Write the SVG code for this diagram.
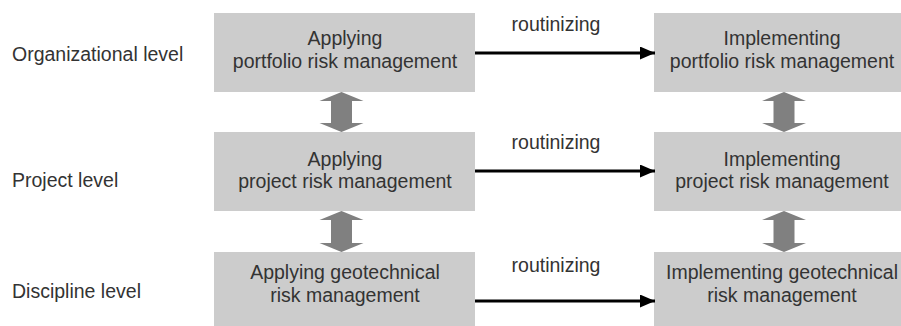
<svg xmlns="http://www.w3.org/2000/svg" width="901" height="326" viewBox="0 0 901 326">
<style>
.box{fill:#cccccc}
.t{font-family:"Liberation Sans",Arial,sans-serif;font-size:19.5px;fill:#333333}
.m{text-anchor:middle}
.link{stroke:#000;stroke-width:3;fill:none}
.dbl{fill:#808080}
</style>
<defs>
<marker id="ah" markerWidth="15" markerHeight="13" refX="15" refY="6.5" orient="auto" markerUnits="userSpaceOnUse">
<polygon points="0,0 15,6.5 0,13" fill="#000"/>
</marker>
</defs>
<g id="labels">
<text class="t" x="12" y="61">Organizational level</text>
<text class="t" x="12" y="187">Project level</text>
<text class="t" x="12" y="298">Discipline level</text>
</g>
<g id="n1"><rect class="box" x="214" y="13" width="261" height="79"/>
<text class="t m" x="345" y="45">Applying</text><text class="t m" x="345" y="68">portfolio risk management</text></g>
<g id="n2"><rect class="box" x="654" y="13" width="260" height="79"/>
<text class="t m" x="782" y="45">Implementing</text><text class="t m" x="782" y="68">portfolio risk management</text></g>
<g id="n3"><rect class="box" x="214" y="132" width="261" height="79"/>
<text class="t m" x="345" y="166">Applying</text><text class="t m" x="345" y="188">project risk management</text></g>
<g id="n4"><rect class="box" x="654" y="132" width="260" height="79"/>
<text class="t m" x="782" y="166">Implementing</text><text class="t m" x="782" y="188">project risk management</text></g>
<g id="n5"><rect class="box" x="214" y="252" width="261" height="74"/>
<text class="t m" x="345" y="279">Applying geotechnical</text><text class="t m" x="345" y="302">risk management</text></g>
<g id="n6"><rect class="box" x="654" y="252" width="260" height="74"/>
<text class="t m" x="782" y="279">Implementing geotechnical</text><text class="t m" x="782" y="302">risk management</text></g>
<g id="connectors">
<line class="link" x1="475" y1="53" x2="655" y2="53" marker-end="url(#ah)"/>
<line class="link" x1="475" y1="171" x2="655" y2="171" marker-end="url(#ah)"/>
<line class="link" x1="475" y1="301" x2="655" y2="301" marker-end="url(#ah)"/>
<text class="t m" x="556" y="31">routinizing</text>
<text class="t m" x="556" y="149">routinizing</text>
<text class="t m" x="556" y="272">routinizing</text>
<polygon class="dbl" points="341.5,92 363.5,101 352,101 352,123 363.5,123 341.5,132 319.5,123 331,123 331,101 319.5,101"/>
<polygon class="dbl" points="341.5,211 363.5,220 352,220 352,243 363.5,243 341.5,252 319.5,243 331,243 331,220 319.5,220"/>
<polygon class="dbl" points="784,92 806,101 794.5,101 794.5,123 806,123 784,132 762,123 773.5,123 773.5,101 762,101"/>
<polygon class="dbl" points="784,211 806,220 794.5,220 794.5,243 806,243 784,252 762,243 773.5,243 773.5,220 762,220"/>
</g>
</svg>
